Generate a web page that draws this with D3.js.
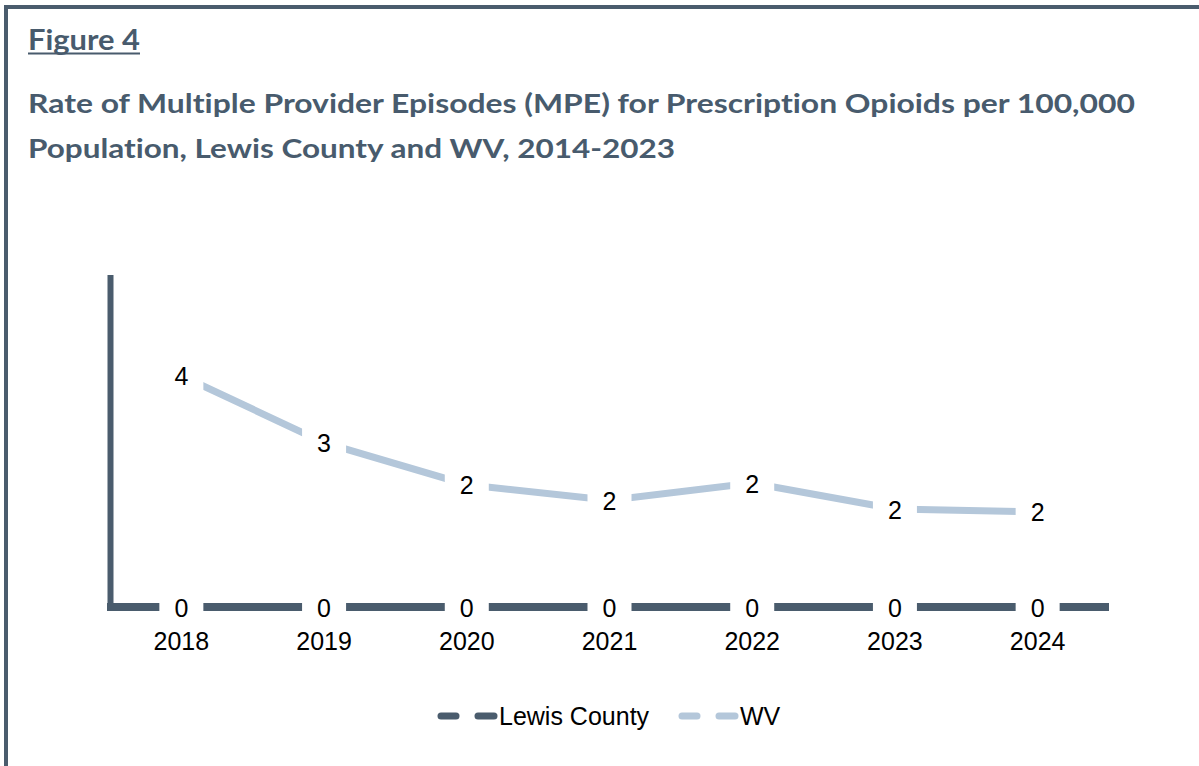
<!DOCTYPE html>
<html>
<head>
<meta charset="utf-8">
<script src="https://cdn.jsdelivr.net/npm/d3@7"></script>
<style>
  html, body { margin: 0; padding: 0; background: #fff; }
  svg { display: block; }
  text { font-variant-ligatures: none; font-feature-settings: "liga" 0, "clig" 0; }
</style>
</head>
<body>
<svg id="chart" width="1199" height="766"></svg>
<script>
const years = ["2018", "2019", "2020", "2021", "2022", "2023", "2024"];
const lewisCounty = [0, 0, 0, 0, 0, 0, 0];
const wv = [4.18, 2.97, 2.21, 1.93, 2.24, 1.77, 1.72];
const seriesNames = ["Lewis County", "WV"];
const figureLabel = "Figure 4";
const titleLines = [
  "Rate of Multiple Provider Episodes (MPE) for Prescription Opioids per 100,000",
  "Population, Lewis County and WV, 2014-2023"
];

const darkC = "#4a5c6d";
const lightC = "#b4c7da";
const titleC = "#485b6d";
const sans = "'Liberation Sans', Arial, sans-serif";

const svg = d3.select("#chart");

// frame
svg.append("path")
  .attr("d", "M6,1300 L6,7 L1300,7")
  .attr("fill", "none").attr("stroke", darkC).attr("stroke-width", 4);

// titles
svg.append("text").attr("x", 28).attr("y", 50)
  .attr("font-family", "Lato, 'Open Sans', sans-serif").attr("font-weight", "bold")
  .attr("font-size", 29).attr("fill", titleC)
  .attr("textLength", 112).attr("lengthAdjust", "spacingAndGlyphs")
  .text(figureLabel);
svg.append("line").attr("x1", 28).attr("x2", 140).attr("y1", 53.5).attr("y2", 53.5)
  .attr("stroke", titleC).attr("stroke-width", 2);

const tl = [1107, 647];
titleLines.forEach((t, i) => {
  svg.append("text").attr("x", 28).attr("y", 113 + i * 45)
    .attr("font-family", "Lato, 'Open Sans', sans-serif").attr("font-weight", "bold")
    .attr("font-size", 27).attr("fill", titleC)
    .attr("textLength", tl[i]).attr("lengthAdjust", "spacingAndGlyphs")
    .text(t);
});

// scales
const x = d3.scaleBand().domain(years).range([110, 1109]).padding(0);
const y = d3.scaleLinear().domain([0, 6]).range([607, 275]);
const cx = d => x(d) + x.bandwidth() / 2;

// axes
const xAxis = svg.append("g").attr("transform", `translate(0,${y(0)})`)
  .call(d3.axisBottom(x).tickSize(0).tickPadding(43));
xAxis.select(".domain").attr("stroke", darkC).attr("stroke-width", 8).attr("d", "M107,0H1109");
xAxis.selectAll("text").attr("font-family", sans)
  .attr("font-size", 25).attr("fill", "#000").attr("dy", "0");

const yAxis = svg.append("g").attr("transform", "translate(110.5,0)")
  .call(d3.axisLeft(y).tickValues([]).tickSize(0));
yAxis.select(".domain").attr("stroke", darkC).attr("stroke-width", 6).attr("d", "M0,275V611");

// lines
const line = d3.line().x((d, i) => cx(years[i])).y(d => y(d));
svg.append("path").datum(lewisCounty).attr("d", line)
  .attr("fill", "none").attr("stroke", darkC).attr("stroke-width", 8);
svg.append("path").datum(wv).attr("d", line)
  .attr("fill", "none").attr("stroke", lightC).attr("stroke-width", 7);

// data labels
const fmt = d3.format(".0f");
function labels(vals) {
  const g = svg.append("g");
  vals.forEach((v, i) => {
    const px = cx(years[i]), py = y(v);
    g.append("rect").attr("x", px - 22).attr("y", py - 15).attr("width", 44).attr("height", 30).attr("fill", "#fff");
    g.append("text").attr("x", px).attr("y", py + 9.5)
      .attr("text-anchor", "middle")
      .attr("font-family", sans).attr("font-size", 25)
      .attr("fill", "#000").text(fmt(v));
  });
}
labels(lewisCounty);
labels(wv);

// legend
const legend = [{name: seriesNames[0], c: darkC, x: 438}, {name: seriesNames[1], c: lightC, x: 679}];
legend.forEach(l => {
  const g = svg.append("g");
  g.append("line").attr("x1", l.x + 3).attr("x2", l.x + 18).attr("y1", 716).attr("y2", 716)
    .attr("stroke", l.c).attr("stroke-width", 7).attr("stroke-linecap", "round");
  g.append("line").attr("x1", l.x + 40).attr("x2", l.x + 56).attr("y1", 716).attr("y2", 716)
    .attr("stroke", l.c).attr("stroke-width", 7).attr("stroke-linecap", "round");
  g.append("text").attr("x", l.x + 61).attr("y", 725)
    .attr("font-family", sans).attr("font-size", 25)
    .attr("fill", "#000").text(l.name);
});
</script>
</body>
</html>
